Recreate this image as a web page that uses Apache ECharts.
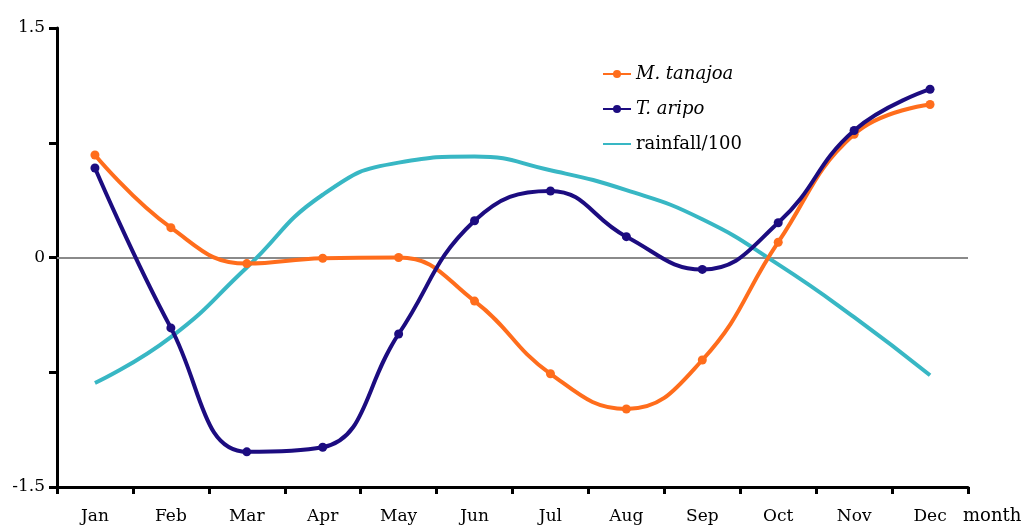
<!DOCTYPE html>
<html><head><meta charset="utf-8">
<script src="https://cdn.jsdelivr.net/npm/echarts@6/dist/echarts.min.js"></script>
<style>html,body{margin:0;padding:0;background:#fff}#c{width:1026px;height:529px}</style>
</head><body><div id="c"></div>
<script>
const months = ['Jan','Feb','Mar','Apr','May','Jun','Jul','Aug','Sep','Oct','Nov','Dec'];
const tanajoa = [0.67, 0.195, -0.04, -0.005, 0.0, -0.285, -0.76, -0.99, -0.67, 0.10, 0.805, 1.0];
const aripo = [0.585, -0.46, -1.27, -1.24, -0.50, 0.24, 0.435, 0.136, -0.078, 0.227, 0.83, 1.10];
const rainfall = [-0.82, -0.52, -0.065, 0.41, 0.62, 0.66, 0.57, 0.44, 0.25, -0.045, -0.39, -0.77];
const yLabels = {'1.5':'1.5','0':'0','-1.5':'-1.5'};

const F = 'DejaVu Serif';
const chart = echarts.init(document.getElementById('c'));
chart.setOption({
  animation: false,
  backgroundColor: '#fff',
  grid: {left: 57, right: 58, top: 28, bottom: 42, containLabel: false},
  legend: {
    left: 597, top: 60, orient: 'vertical', itemGap: 17, itemWidth: 28, itemHeight: 10,
    textStyle: {fontFamily: F, fontSize: 18, color: '#000',
      rich: {i: {fontFamily: F, fontSize: 18, fontStyle: 'italic', color: '#000'}}},
    formatter: n => n === 'rainfall/100' ? n : '{i|' + n + '}',
    data: ['M. tanajoa', 'T. aripo', {name: 'rainfall/100', itemStyle: {opacity: 0}}]
  },
  xAxis: {
    type: 'category', data: months, boundaryGap: true,
    name: 'month', nameLocation: 'end', nameGap: -5,
    nameTextStyle: {fontFamily: F, fontSize: 18, color: '#000', verticalAlign: 'top', padding: [20, 0, 0, 0]},
    axisLine: {onZero: false, lineStyle: {color: '#000', width: 3}},
    axisTick: {show: true, length: 7, lineStyle: {color: '#000', width: 3}, alignWithLabel: false},
    axisLabel: {fontFamily: F, fontSize: 17, color: '#000', margin: 21},
    splitLine: {show: false}
  },
  yAxis: {
    type: 'value', min: -1.5, max: 1.5, interval: 0.75,
    axisLine: {show: true, lineStyle: {color: '#000', width: 3}},
    axisTick: {show: true, length: 8, lineStyle: {color: '#000', width: 3}},
    axisLabel: {fontFamily: F, fontSize: 17, color: '#000', margin: 12,
      formatter: v => yLabels[String(v)] !== undefined ? yLabels[String(v)] : ''},
    splitLine: {show: false}
  },
  series: [
    {name: 'M. tanajoa', type: 'line', data: tanajoa, smooth: 0.45, symbol: 'circle', symbolSize: 9,
     lineStyle: {color: '#ff6d1c', width: 4}, itemStyle: {color: '#ff6d1c'}, z: 3,
     markLine: {silent: true, symbol: 'none', label: {show: false},
       lineStyle: {color: '#8a8a8a', width: 2, type: 'solid'}, data: [{yAxis: 0}], z: 1}},
    {name: 'T. aripo', type: 'line', data: aripo, smooth: 0.45, symbol: 'circle', symbolSize: 9,
     lineStyle: {color: '#1c0c80', width: 4}, itemStyle: {color: '#1c0c80'}, z: 4},
    {name: 'rainfall/100', type: 'line', data: rainfall, smooth: 0.5, symbol: 'none',
     lineStyle: {color: '#38b7c4', width: 4}, itemStyle: {color: '#38b7c4'}, z: 2}
  ]
});
</script></body></html>
